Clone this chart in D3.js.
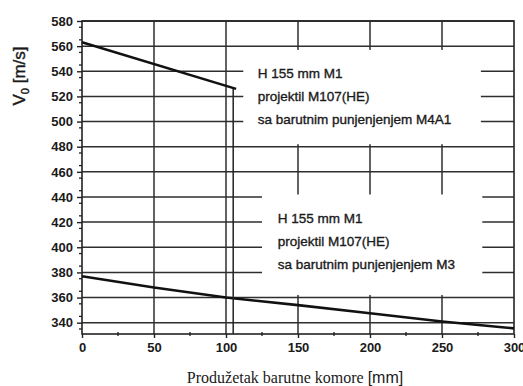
<!DOCTYPE html>
<html>
<head>
<meta charset="utf-8">
<script src="https://cdn.jsdelivr.net/npm/d3@7"></script>
<style>
  body { margin: 0; background: #fff; }
  text { font-family: "Liberation Sans", Arial, sans-serif; fill: #1a1a1a; }
</style>
</head>
<body>
<div id="chart"></div>
<script>
// data
var xTicks = [0, 50, 100, 150, 200, 250, 300];
var yTicks = [340, 360, 380, 400, 420, 440, 460, 480, 500, 520, 540, 560, 580];

// M4A1 charge (upper curve)
var upperX = [0, 107];
var upperV = [563, 526];
var dropX = 105;

// M3 charge (lower curve)
var lowerX = [0, 50, 100, 150, 200, 250, 300];
var lowerV = [377, 368, 360, 354, 347.5, 341, 335.5];

var upperLabel = ["H 155 mm M1", "projektil M107(HE)", "sa barutnim punjenjenjem M4A1"];
var lowerLabel = ["H 155 mm M1", "projektil M107(HE)", "sa barutnim punjenjenjem M3"];

var W = 523, H = 386;
var margin = {top: 21, right: 9, bottom: 52, left: 82};

var svg = d3.select("#chart").append("svg")
  .attr("width", W)
  .attr("height", H);

var x = d3.scaleLinear().domain([0, 300]).range([margin.left, W - margin.right]);
var y = d3.scaleLinear().domain([331, 580]).range([H - margin.bottom, margin.top]);

var grid = svg.append("g").attr("stroke", "#2e2e2e").attr("stroke-width", 1.5);

// horizontal grid
grid.selectAll("line.h")
  .data(yTicks)
  .enter().append("line")
    .attr("class", "h")
    .attr("x1", x(0)).attr("x2", x(300))
    .attr("y1", function(d) { return y(d); })
    .attr("y2", function(d) { return y(d); });

// vertical grid
grid.selectAll("line.v")
  .data(xTicks.slice(1, -1))
  .enter().append("line")
    .attr("class", "v")
    .attr("x1", function(d) { return x(d); })
    .attr("x2", function(d) { return x(d); })
    .attr("y1", y(580)).attr("y2", y(331));

// white boxes behind the annotations
var boxes = [
  {x0: 112, x1: 277, v0: 557, v1: 482},
  {x0: 125, x1: 278, v0: 442, v1: 362}
];
svg.selectAll("rect.box")
  .data(boxes)
  .enter().append("rect")
    .attr("class", "box")
    .attr("x", function(d) { return x(d.x0); })
    .attr("y", function(d) { return y(d.v0); })
    .attr("width", function(d) { return x(d.x1) - x(d.x0); })
    .attr("height", function(d) { return y(d.v1) - y(d.v0); })
    .attr("fill", "#fff");

// frame
svg.append("rect")
  .attr("x", x(0)).attr("y", y(580))
  .attr("width", x(300) - x(0)).attr("height", y(331) - y(580))
  .attr("fill", "none").attr("stroke", "#222").attr("stroke-width", 1.6);

// axes
var yAxis = svg.append("g")
  .attr("transform", "translate(" + x(0) + ",0)")
  .call(d3.axisLeft(y).tickValues(yTicks).tickSize(5).tickPadding(3));
var xAxis = svg.append("g")
  .attr("transform", "translate(0," + y(331) + ")")
  .call(d3.axisBottom(x).tickValues(xTicks).tickSize(4).tickPadding(5));

[yAxis, xAxis].forEach(function(a) {
  a.select(".domain").remove();
  a.selectAll("line").attr("stroke", "#222").attr("stroke-width", 1.4);
  a.selectAll("text")
    .attr("fill", "#1a1a1a")
    .style("font-family", "Liberation Sans, Arial, sans-serif")
    .style("font-size", "13px")
    .style("font-weight", "bold");
});
yAxis.selectAll("text").attr("dx", "-1");

// minor ticks
svg.append("g")
  .selectAll("line")
  .data(d3.range(335, 580, 10))
  .enter().append("line")
    .attr("x1", x(0) - 3).attr("x2", x(0))
    .attr("y1", function(d) { return y(d); })
    .attr("y2", function(d) { return y(d); })
    .attr("stroke", "#222").attr("stroke-width", 1.3);
svg.append("g")
  .selectAll("line")
  .data(d3.range(25, 300, 50))
  .enter().append("line")
    .attr("x1", function(d) { return x(d); })
    .attr("x2", function(d) { return x(d); })
    .attr("y1", y(331) - 2).attr("y2", y(331) + 2)
    .attr("stroke", "#222").attr("stroke-width", 1.3);

// curves
var line = d3.line()
  .x(function(d) { return x(d[0]); })
  .y(function(d) { return y(d[1]); });

svg.append("path")
  .datum(d3.zip(upperX, upperV))
  .attr("d", line)
  .attr("fill", "none").attr("stroke", "#111").attr("stroke-width", 2.6);

svg.append("path")
  .datum(d3.zip(lowerX, lowerV))
  .attr("d", line)
  .attr("fill", "none").attr("stroke", "#111").attr("stroke-width", 2.6);

// drop line from end of upper curve down to the axis
svg.append("line")
  .attr("x1", x(dropX)).attr("x2", x(dropX))
  .attr("y1", y(upperV[1])).attr("y2", y(331))
  .attr("stroke", "#222").attr("stroke-width", 1.5);

// annotations
function annot(lines, xv, vv) {
  svg.append("g")
    .selectAll("text")
    .data(lines)
    .enter().append("text")
      .attr("x", x(xv))
      .attr("y", function(d, i) { return y(vv) + i * 23; })
      .style("font-size", "13.5px")
      .attr("stroke", "#1a1a1a")
      .attr("stroke-width", 0.35)
      .text(function(d) { return d; });
}
annot(upperLabel, 122, 535);
annot(lowerLabel, 136, 419);

// y axis title
var yt = svg.append("text")
  .attr("transform", "translate(25,76) rotate(-90)")
  .attr("text-anchor", "middle")
  .attr("stroke", "#1a1a1a")
  .attr("stroke-width", 0.4)
  .style("font-size", "17px");
yt.append("tspan").text("V");
yt.append("tspan").attr("dy", 4).style("font-size", "11px").text("0");
yt.append("tspan").attr("dy", -4).text(" [m/s]");

// x axis title
var xt = svg.append("text")
  .attr("x", 295).attr("y", 383)
  .attr("text-anchor", "middle");
xt.append("tspan")
  .style("font-family", "Liberation Serif, Times New Roman, serif")
  .style("font-size", "16px")
  .text("Produžetak barutne komore ");
xt.append("tspan")
  .style("font-size", "16px")
  .text("[mm]");
</script>
</body>
</html>
